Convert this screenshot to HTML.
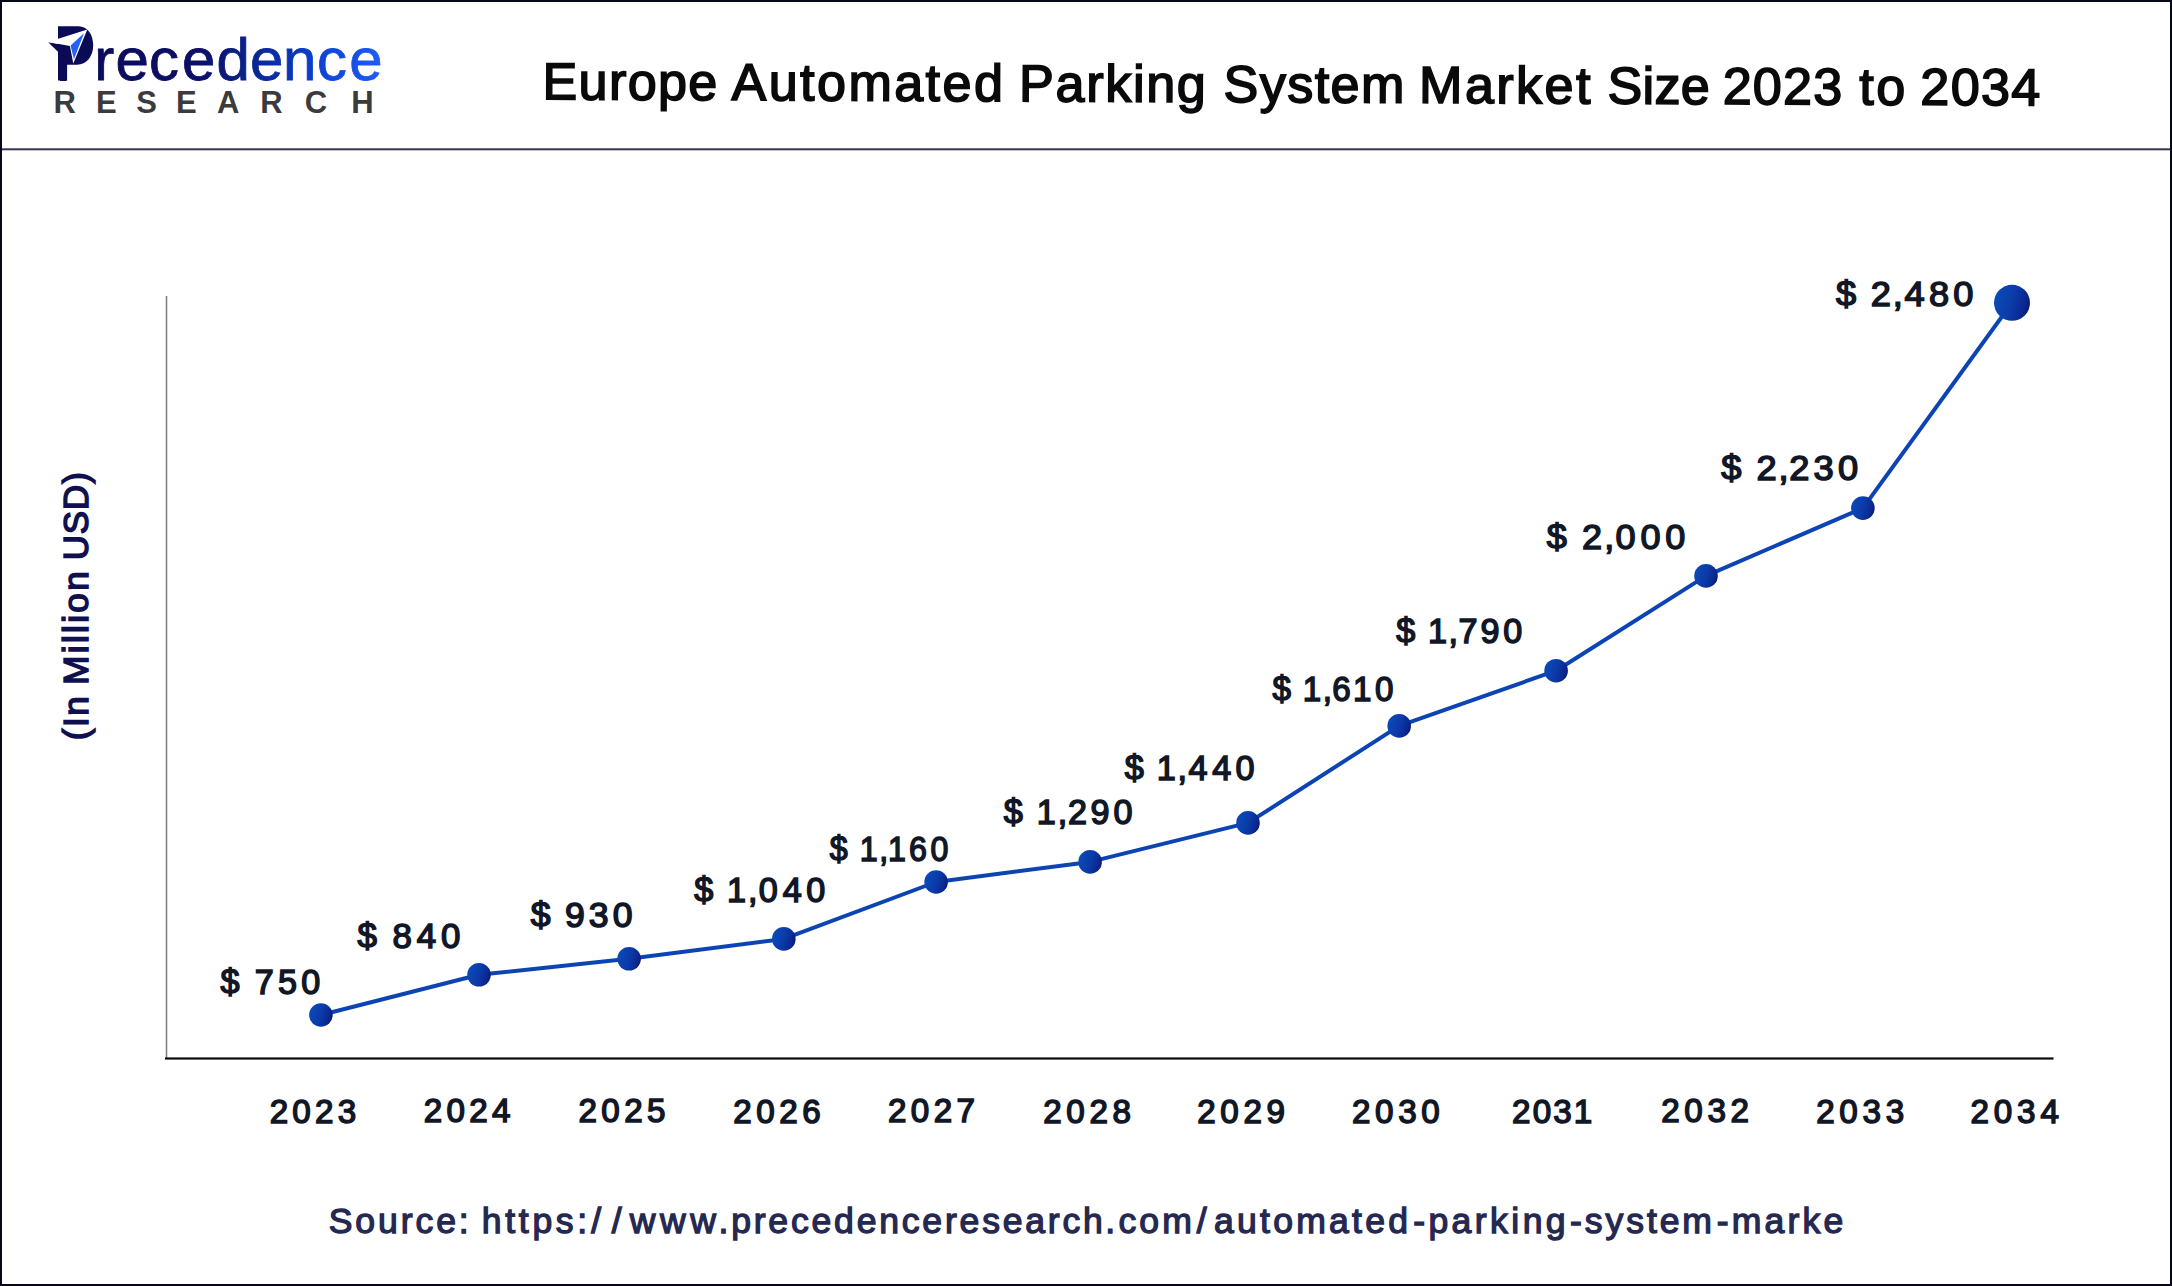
<!DOCTYPE html>
<html lang="en"><head><meta charset="utf-8"><title>Europe Automated Parking System Market Size 2023 to 2034</title>
<style>
html,body{margin:0;padding:0;background:#fff;}
body{width:2172px;height:1286px;overflow:hidden;font-family:"Liberation Sans",sans-serif;}
svg{display:block;position:absolute;left:0;top:0;}
text{font-family:"Liberation Sans",sans-serif;white-space:pre;}
.lbl{fill:#121726;stroke:#121726;}
.yr{fill:#121726;stroke:#121726;}
.title{fill:#0a0a0c;stroke:#0a0a0c;}
.src{fill:#252850;stroke:#252850;}
.ylab{fill:#10104e;stroke:#10104e;}
.res{font-weight:bold;fill:#3b3b3d;}
.logo{fill:url(#lg);stroke:url(#lg);}
</style></head><body>
<svg width="2172" height="1286" viewBox="0 0 2172 1286">
<defs>
<linearGradient id="lg" gradientUnits="userSpaceOnUse" x1="48" y1="0" x2="380" y2="0">
<stop offset="0" stop-color="#0b0a55"/><stop offset="0.45" stop-color="#0c0f66"/><stop offset="0.62" stop-color="#0b2590"/><stop offset="0.8" stop-color="#0b3fd0"/><stop offset="1" stop-color="#1f5cf5"/>
</linearGradient>
<linearGradient id="pg" x1="0" y1="0.35" x2="1" y2="0.65">
<stop offset="0" stop-color="#0b4ab9"/><stop offset="0.5" stop-color="#0b3ba8"/><stop offset="0.82" stop-color="#0b2891"/><stop offset="1" stop-color="#0a1872"/>
</linearGradient>
</defs>
<rect x="0" y="0" width="2172" height="1286" fill="#ffffff"/>
<rect x="1" y="1" width="2170" height="1284" fill="none" stroke="#07071a" stroke-width="2"/>
<rect x="2" y="148.3" width="2168" height="2" fill="#35354a"/>
<rect x="165.7" y="296" width="1.6" height="762" fill="#808084"/>
<rect x="165" y="1057.4" width="1888.5" height="2.2" fill="#0b0b0e"/>
<path d="M320.9,1015 L479,974.8 L629.1,958.8 L783.8,938.9 L936.1,882 L1090.1,861.9 L1248,822.9 L1399.2,725.9 L1556.1,670.7 L1706,575.9 L1862.9,508.1 L2012,302.8" fill="none" stroke="#0c45b3" stroke-width="4" stroke-linejoin="round"/>
<circle cx="320.9" cy="1015" r="11.8" fill="url(#pg)"/>
<circle cx="479" cy="974.8" r="11.8" fill="url(#pg)"/>
<circle cx="629.1" cy="958.8" r="11.8" fill="url(#pg)"/>
<circle cx="783.8" cy="938.9" r="11.8" fill="url(#pg)"/>
<circle cx="936.1" cy="882" r="11.8" fill="url(#pg)"/>
<circle cx="1090.1" cy="861.9" r="11.8" fill="url(#pg)"/>
<circle cx="1248" cy="822.9" r="11.8" fill="url(#pg)"/>
<circle cx="1399.2" cy="725.9" r="11.8" fill="url(#pg)"/>
<circle cx="1556.1" cy="670.7" r="11.8" fill="url(#pg)"/>
<circle cx="1706" cy="575.9" r="11.8" fill="url(#pg)"/>
<circle cx="1862.9" cy="508.1" r="11.8" fill="url(#pg)"/>
<circle cx="2012" cy="302.8" r="18" fill="url(#pg)"/>
<text class="lbl" transform="translate(0,994.05) scale(1.0,1)" x="220.55 230.55 254.67 277.98 301.28" y="0" font-size="34.20" stroke-width="1.5">$ 750</text>
<text class="lbl" transform="translate(0,947.95) scale(1.02,1)" x="350.44 360.25 384.88 408.62 432.37" y="0" font-size="34.20" stroke-width="1.5">$ 840</text>
<text class="lbl" transform="translate(0,926.85) scale(1.04,1)" x="510.43 520.05 543.36 566.23 589.09" y="0" font-size="34.20" stroke-width="1.5">$ 930</text>
<text class="lbl" transform="translate(0,901.85) scale(1.0,1)" x="694.35 704.35 727.07 748.01 758.65 782.73 806.28" y="0" font-size="34.20" stroke-width="1.5">$ 1,040</text>
<text class="lbl" transform="translate(0,861.00) scale(0.94,1)" x="882.71 893.35 914.59 935.35 944.81 967.07 989.86" y="0" font-size="34.20" stroke-width="1.5">$ 1,160</text>
<text class="lbl" transform="translate(0,824.35) scale(1.0,1)" x="1003.75 1013.75 1036.73 1057.75 1067.92 1090.48 1113.58" y="0" font-size="34.20" stroke-width="1.5">$ 1,290</text>
<text class="lbl" transform="translate(0,780.15) scale(1.0,1)" x="1124.75 1134.75 1156.68 1177.38 1188.39 1212.20 1235.48" y="0" font-size="34.20" stroke-width="1.5">$ 1,440</text>
<text class="lbl" transform="translate(0,700.65) scale(0.97,1)" x="1311.80 1322.11 1343.07 1363.59 1373.42 1394.90 1417.45" y="0" font-size="34.20" stroke-width="1.5">$ 1,610</text>
<text class="lbl" transform="translate(0,643.05) scale(1.0,1)" x="1396.25 1406.25 1427.96 1448.59 1458.47 1480.61 1503.28" y="0" font-size="34.20" stroke-width="1.5">$ 1,790</text>
<text class="lbl" transform="translate(0,548.85) scale(1.02,1)" x="1516.42 1526.23 1551.05 1572.77 1583.81 1608.24 1632.66" y="0" font-size="35.40" stroke-width="1.5">$ 2,000</text>
<text class="lbl" transform="translate(0,480.45) scale(1.06,1)" x="1623.73 1633.16 1657.00 1677.89 1687.94 1710.90 1733.86" y="0" font-size="34.20" stroke-width="1.5">$ 2,230</text>
<text class="lbl" transform="translate(0,306.25) scale(1.06,1)" x="1732.03 1741.46 1764.83 1785.57 1796.59 1819.92 1842.73" y="0" font-size="34.20" stroke-width="1.5">$ 2,480</text>
<text class="title" transform="translate(545.9,100.2) rotate(0.23) translate(0,-0.85)" font-size="52" stroke-width="1.7"><tspan x="-3.41" letter-spacing="1.418">Europe</tspan> <tspan x="185.65" letter-spacing="2.478">Automated</tspan> <tspan x="473.19" letter-spacing="1.728">Parking</tspan> <tspan x="677.73" letter-spacing="1.450">System</tspan> <tspan x="873.19" letter-spacing="2.493">Market</tspan> <tspan x="1061.62" letter-spacing="0.359">Size</tspan> <tspan x="1176.81" letter-spacing="1.255">2023</tspan> <tspan x="1313.25" letter-spacing="2.740">to</tspan> <tspan x="1374.41" letter-spacing="1.418">2034</tspan></text>
<text class="src" transform=" translate(0,1232.65)" font-size="35.6" stroke-width="1.3"><tspan x="328.74" letter-spacing="2.890">Source:</tspan> <tspan x="481.82" letter-spacing="3.674">https:</tspan><tspan x="591.15" letter-spacing="10.797">//</tspan><tspan x="629.71" letter-spacing="4.591">www</tspan><tspan x="718.47" letter-spacing="2.785">.precedenceresearch</tspan><tspan x="1105.37" letter-spacing="3.160">.com</tspan><tspan x="1196.65" letter-spacing="0.000">/</tspan><tspan x="1214.04" letter-spacing="3.223">automated</tspan><tspan x="1413.14" letter-spacing="3.428">-parking</tspan><tspan x="1570.04" letter-spacing="2.909">-system</tspan><tspan x="1716.84" letter-spacing="3.138">-marke</tspan></text>
<text class="ylab" transform="translate(88.5,739.3) rotate(-90) translate(0,-0.75)" font-size="34.9" stroke-width="1.5"><tspan x="-0.89" letter-spacing="1.534">(In</tspan> <tspan x="54.62" letter-spacing="2.397">Million</tspan> <tspan x="178.97" letter-spacing="0.993">USD)</tspan></text>
<text class="yr" transform=" translate(269.69,1123.05)" font-size="33.2" stroke-width="1.5" letter-spacing="4.215">2023</text>
<text class="yr" transform=" translate(423.69,1122.45)" font-size="33.2" stroke-width="1.5" letter-spacing="4.275">2024</text>
<text class="yr" transform=" translate(578.49,1122.15)" font-size="33.2" stroke-width="1.5" letter-spacing="4.415">2025</text>
<text class="yr" transform=" translate(733.19,1122.95)" font-size="33.2" stroke-width="1.5" letter-spacing="4.582">2026</text>
<text class="yr" transform=" translate(887.89,1121.65)" font-size="33.2" stroke-width="1.5" letter-spacing="4.415">2027</text>
<text class="yr" transform=" translate(1043.19,1122.95)" font-size="33.2" stroke-width="1.5" letter-spacing="4.648">2028</text>
<text class="yr" transform=" translate(1197.19,1122.95)" font-size="33.2" stroke-width="1.5" letter-spacing="4.648">2029</text>
<text class="yr" transform=" translate(1351.89,1122.95)" font-size="33.2" stroke-width="1.5" letter-spacing="4.675">2030</text>
<text class="yr" transform=" translate(1512.09,1122.95)" font-size="33.2" stroke-width="1.5" letter-spacing="2.082">2031</text>
<text class="yr" transform=" translate(1661.19,1122.15)" font-size="33.2" stroke-width="1.5" letter-spacing="4.682">2032</text>
<text class="yr" transform=" translate(1816.19,1123.05)" font-size="33.2" stroke-width="1.5" letter-spacing="4.715">2033</text>
<text class="yr" transform=" translate(1970.49,1123.05)" font-size="33.2" stroke-width="1.5" letter-spacing="4.842">2034</text>
<g id="logo">
<text x="57" y="80.6" font-size="75" font-weight="bold" fill="#0b0a55" transform="translate(57,0) scale(0.6,1) translate(-57,0)">P</text>
<path d="M58,26.2 L78.6,26.2 C87.5,26.2 93.2,34.5 93.2,45.3 C93.2,56.5 86.5,64.8 77,64.8 L67.1,64.8 L67.1,80.6 L58,80.6 Z" fill="#0b0a55"/>
<path d="M48.2,42.3 L58.2,44 L58.2,51.9 Z" fill="#0b0a55"/>
<path d="M87.3,29.6 L48.1,41.9 L69.9,46.1 L73.3,63.4 Z" fill="#ffffff"/>
<path d="M84.0,33.2 L70.6,45.6 L73.9,59.3 Z" fill="#2462f2"/>
<text class="logo" x="94.25 115.44 149.07 182.12 216.49 249.93 282.97 316.96 349.36" y="79.90" font-size="60" stroke-width="0.8">recedence</text>
<text class="res" x="53.43 96.00 136.33 176.00 217.06 260.13 304.82 351.26" y="112.60" font-size="31" stroke-width="0">RESEARCH</text>
</g>
</svg></body></html>
